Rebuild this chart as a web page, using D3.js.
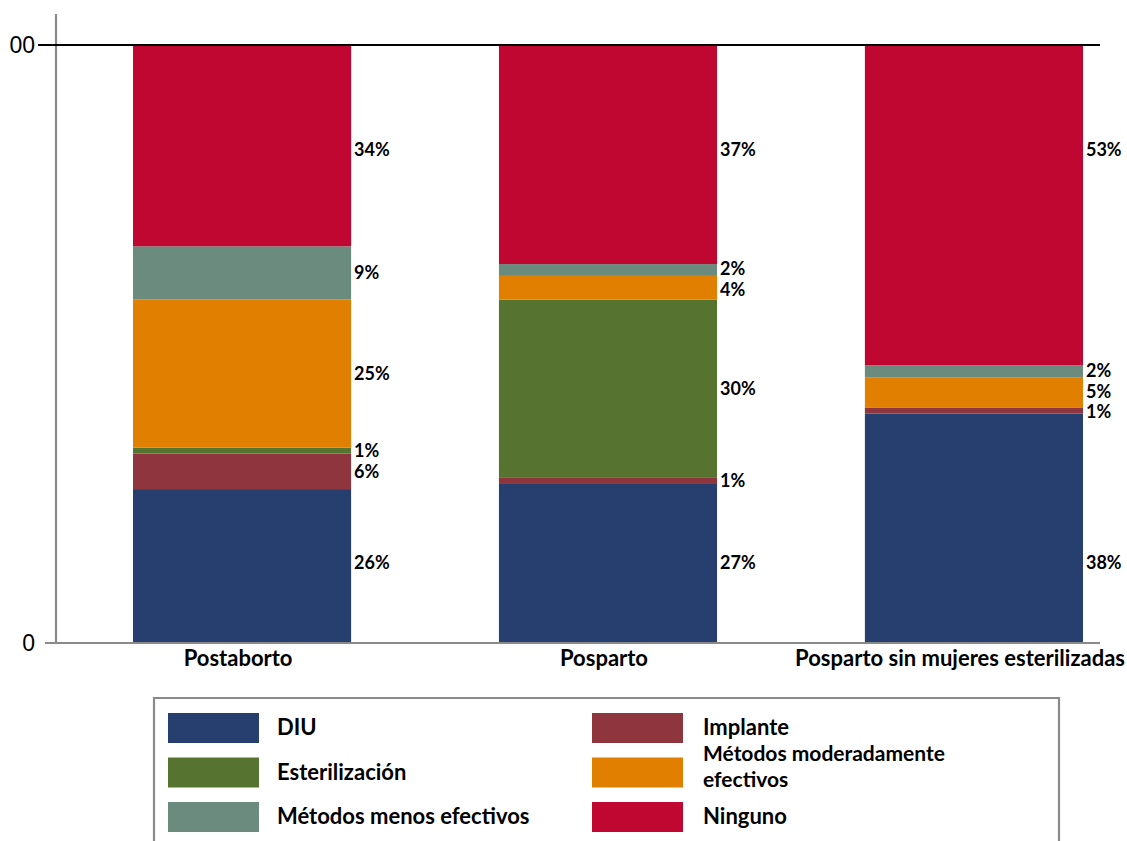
<!DOCTYPE html>
<html>
<head>
<meta charset="utf-8">
<script src="https://cdn.jsdelivr.net/npm/d3@7"></script>
<style>
  html, body { margin: 0; padding: 0; background: #ffffff; }
  svg { display: block; }
</style>
</head>
<body>
<svg id="chart" width="1127" height="841"></svg>
<script>
// ---------- data ----------
const categories = ["Postaborto", "Posparto", "Posparto sin mujeres esterilizadas"];
const seriesNames = ["DIU", "Implante", "Esterilización", "Métodos moderadamente efectivos", "Métodos menos efectivos", "Ninguno"];
const valuesDIU        = [26, 27, 38];
const valuesImplante   = [6, 1, 1];
const valuesEsterilizacion = [1, 30, 0];
const valuesModerados  = [25, 4, 5];
const valuesMenos      = [9, 2, 2];
const valuesNinguno    = [34, 37, 53];
const tickValues = [0, 1];
const tickLabels = ["0", "00"];

// ---------- styles ----------
const colors = {
  "DIU": "#273f6e",
  "Implante": "#8e353d",
  "Esterilización": "#56742f",
  "Métodos moderadamente efectivos": "#e07f00",
  "Métodos menos efectivos": "#6b8b7f",
  "Ninguno": "#c00732"
};
const seriesValues = [valuesDIU, valuesImplante, valuesEsterilizacion, valuesModerados, valuesMenos, valuesNinguno];

const rows = categories.map((c, i) => {
  const r = { category: c };
  seriesNames.forEach((s, j) => { r[s] = seriesValues[j][i]; });
  return r;
});

const svg = d3.select("#chart");
const W = 1127;

const x = d3.scaleBand()
  .domain(categories)
  .range([57, 1159])
  .paddingInner(0.404)
  .paddingOuter(0.2077);

const y = d3.scaleLinear().domain([0, 1]).range([643, 45]);

const stack = d3.stack().keys(seriesNames).offset(d3.stackOffsetExpand);
const stacked = stack(rows);

// bars
const g = svg.append("g");
stacked.forEach(layer => {
  g.selectAll(null)
    .data(layer)
    .join("rect")
    .attr("x", d => x(d.data.category))
    .attr("width", x.bandwidth())
    .attr("y", d => y(d[1]))
    .attr("height", d => Math.max(0, y(d[0]) - y(d[1])))
    .attr("fill", colors[layer.key]);
});

// axes lines
const axisGray = "#8a8a8a";
svg.append("line")
  .attr("x1", 56).attr("x2", 56)
  .attr("y1", 14).attr("y2", y(0))
  .attr("stroke", axisGray).attr("stroke-width", 2.2);

tickValues.forEach((t, i) => {
  const top = t === 1;
  svg.append("line")
    .attr("x1", top ? 38 : 45).attr("x2", 1100)
    .attr("y1", y(t)).attr("y2", y(t))
    .attr("stroke", top ? "#000" : axisGray)
    .attr("stroke-width", top ? 2 : 2.2);
  svg.append("text")
    .attr("x", 35).attr("y", y(t))
    .attr("dy", "0.36em")
    .attr("text-anchor", "end")
    .attr("font-family", "Liberation Sans, Arial, sans-serif")
    .attr("font-size", 23)
    .attr("fill", "#000")
    .text(tickLabels[i]);
});

// category labels
const catFont = "Lato, 'Open Sans', sans-serif";
categories.forEach(c => {
  const t = svg.append("text")
    .attr("y", 666)
    .attr("text-anchor", "middle")
    .attr("font-family", catFont)
    .attr("font-weight", "bold")
    .attr("font-size", 22)
    .attr("fill", "#000")
    .text(c);
  const w = t.node().getComputedTextLength();
  let cx = x(c) + x.bandwidth() / 2 - 4;
  cx = Math.min(cx, W - 2 - w / 2);
  t.attr("x", cx);
});

// percentage labels
const labelFont = "Lato, 'Open Sans', sans-serif";
categories.forEach((c, ci) => {
  const items = [];
  stacked.forEach((layer, li) => {
    const d = layer[ci];
    const v = seriesValues[li][ci];
    if (v <= 0) return;
    let yy;
    if (li === 0) yy = y(0.134);
    else if (li === stacked.length - 1) yy = y(0.826);
    else yy = (y(d[0]) + y(d[1])) / 2;
    items.push({ v, yy, li });
  });
  const minGap = 21;
  for (let k = 1; k < items.length; k++) {
    const prev = items[k - 1], cur = items[k];
    if (prev.yy - cur.yy < minGap) {
      const mid = (prev.yy + cur.yy) / 2;
      if (k - 1 > 0) prev.yy = mid + minGap / 2;
      cur.yy = prev.yy - minGap;
    }
  }
  items.forEach(it => {
    svg.append("text")
      .attr("x", x(c) + x.bandwidth() + 3)
      .attr("y", it.yy)
      .attr("dy", "0.36em")
      .attr("font-family", labelFont)
      .attr("font-weight", "bold")
      .attr("font-size", 18)
      .attr("fill", "#000")
      .text(it.v + "%");
  });
});

// legend
svg.append("path")
  .attr("d", "M154,850 L154,698 L1059,698 L1059,850")
  .attr("fill", "none")
  .attr("stroke", axisGray)
  .attr("stroke-width", 2.2);

const legendItems = [
  { key: "DIU", col: 0, row: 0, lines: ["DIU"] },
  { key: "Esterilización", col: 0, row: 1, lines: ["Esterilización"] },
  { key: "Métodos menos efectivos", col: 0, row: 2, lines: ["Métodos menos efectivos"] },
  { key: "Implante", col: 1, row: 0, lines: ["Implante"] },
  { key: "Métodos moderadamente efectivos", col: 1, row: 1, lines: ["Métodos moderadamente", "efectivos"] },
  { key: "Ninguno", col: 1, row: 2, lines: ["Ninguno"] }
];
const colX = [168, 592];
const rowY = [713, 757.5, 802];
legendItems.forEach(it => {
  const sx = colX[it.col], sy = rowY[it.row];
  svg.append("rect")
    .attr("x", sx).attr("y", sy)
    .attr("width", 91).attr("height", 30)
    .attr("fill", colors[it.key]);
  const cy = sy + 15;
  const tx = sx + (it.col === 0 ? 109 : 111);
  const multi = it.lines.length > 1;
  it.lines.forEach((ln, k) => {
    svg.append("text")
      .attr("x", tx)
      .attr("y", multi ? cy - 11.5 + k * 25.5 : cy + 7)
      .attr("font-family", labelFont)
      .attr("font-weight", "bold")
      .attr("font-size", multi ? 21 : 22)
      .attr("fill", "#000")
      .text(ln);
  });
});
</script>
</body>
</html>
